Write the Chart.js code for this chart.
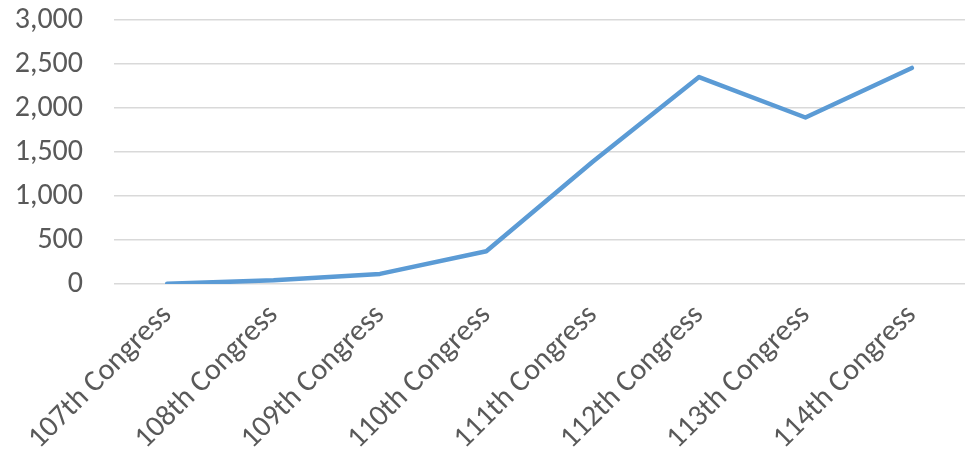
<!DOCTYPE html>
<html>
<head>
<meta charset="utf-8">
<script src="https://cdn.jsdelivr.net/npm/chart.js@4.4.1/dist/chart.umd.min.js"></script>
<style>
  html, body { margin: 0; padding: 0; background: #fff; }
  #wrap { width: 965px; height: 452px; }
</style>
</head>
<body>
<div id="wrap"><canvas id="myLineChart"></canvas></div>
<script>
// data
const congresses = ['107th Congress', '108th Congress', '109th Congress', '110th Congress',
  '111th Congress', '112th Congress', '113th Congress', '114th Congress'];
const counts = [2, 42, 115, 372, 1390, 2352, 1892, 2455];
const yTicks = [0, 500, 1000, 1500, 2000, 2500, 3000];

const font = { family: "Carlito, Calibri, 'Liberation Sans', sans-serif", size: 30 };

const configLine = {
  type: 'line',
  data: {
    labels: congresses,
    datasets: [{
      data: counts,
      borderColor: '#5B9BD5',
      borderWidth: 4.5,
      borderCapStyle: 'round',
      borderJoinStyle: 'round',
      pointRadius: 0,
      tension: 0
    }]
  },
  options: {
    responsive: true,
    maintainAspectRatio: false,
    animation: false,
    layout: { padding: { top: 20, right: 0, bottom: 0, left: 0 } },
    plugins: {
      legend: { display: false },
      tooltip: { enabled: false }
    },
    scales: {
      x: {
        offset: true,
        grid: { display: false },
        border: { display: false },
        ticks: {
          color: '#595959',
          font: font,
          minRotation: 45,
          maxRotation: 45,
          padding: 6
        },
        afterFit: function(scale) {
          scale.height = 168;
          scale.paddingLeft = 0;
          scale.paddingRight = 0;
        }
      },
      y: {
        min: 0,
        max: 3000,
        afterBuildTicks: function(scale) {
          scale.ticks = yTicks.map(v => ({ value: v }));
        },
        grid: { color: '#D9D9D9', lineWidth: 1.5, drawTicks: false },
        border: { display: false },
        ticks: {
          color: '#595959',
          font: font,
          padding: 31,
          callback: v => v.toLocaleString('en-US')
        },
        afterFit: function(scale) {
          scale.width = 114;
          scale.paddingTop = 0;
          scale.paddingBottom = 0;
        }
      }
    }
  }
};

const myLineChart = new Chart(document.getElementById('myLineChart'), configLine);
</script>
</body>
</html>
